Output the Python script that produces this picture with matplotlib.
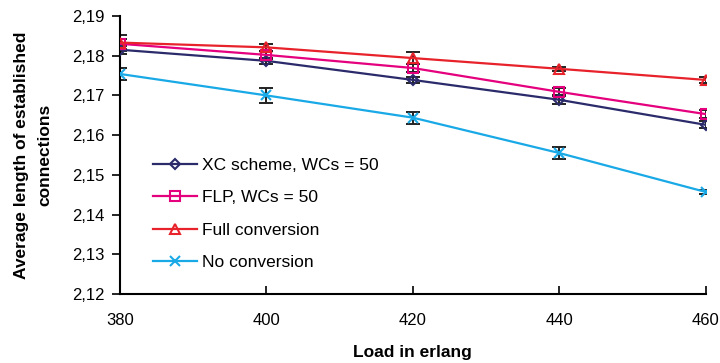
import matplotlib
matplotlib.use("Agg")
import matplotlib.pyplot as plt
from matplotlib.ticker import FuncFormatter

plt.rcParams['font.family'] = ['Liberation Sans', 'DejaVu Sans']

load = [380, 400, 420, 440, 460]

xc = [2.1815, 2.1787, 2.1739, 2.1689, 2.1626]
xc_err = [0.0010, 0.0008, 0.0008, 0.0010, 0.0009]

flp = [2.1830, 2.1802, 2.1769, 2.1709, 2.1653]
flp_err = [0.0012, 0.0010, 0.0010, 0.0009, 0.0011]

full = [2.1833, 2.1821, 2.1794, 2.1767, 2.1739]
full_err = [0.0020, 0.0008, 0.0016, 0.0005, 0.0008]

noconv = [2.1754, 2.1700, 2.1644, 2.1555, 2.1457]
noconv_err = [0.0014, 0.0019, 0.0015, 0.0015, 0.0006]

fig = plt.figure(figsize=(7.2, 3.63), dpi=100)
ax = fig.add_axes([0.1667, 0.19, 0.8133, 0.766])

series = [
    (xc, xc_err, '#2b2b6b', 'D', 5.5, 'XC scheme, WCs = 50'),
    (flp, flp_err, '#e5007d', 's', 6.5, 'FLP, WCs = 50'),
    (full, full_err, '#e8222b', '^', 7.5, 'Full conversion'),
    (noconv, noconv_err, '#19a9e6', 'x', 7.5, 'No conversion'),
]

for vals, errs, col, mk, ms, lab in series:
    ax.errorbar(load, vals, yerr=errs, fmt='none', ecolor='#222222',
                elinewidth=1.4, capsize=5, capthick=1.4, zorder=2)
    ax.plot(load, vals, color=col, marker=mk, markersize=ms,
            markerfacecolor='none' if mk != 'x' else col,
            markeredgecolor=col, markeredgewidth=1.5, linewidth=1.6,
            label=lab, zorder=3)

ax.set_xlim(380, 460)
ax.set_ylim(2.12, 2.19)
ax.set_xticks(load)
ax.set_yticks([2.12, 2.13, 2.14, 2.15, 2.16, 2.17, 2.18, 2.19])
ax.yaxis.set_major_formatter(FuncFormatter(lambda v, p: f"{v:.2f}".replace('.', ',')))

ax.spines['top'].set_visible(False)
ax.spines['right'].set_visible(False)
ax.spines['left'].set_linewidth(1.5)
ax.spines['bottom'].set_linewidth(1.5)
ax.tick_params(axis='y', direction='out', length=6, width=1.2, labelsize=12, pad=5)
ax.tick_params(axis='x', direction='in', length=6, width=1.2, labelsize=12, pad=14)

ax.set_xlabel("Load in erlang", fontsize=12.5, fontweight='bold', labelpad=12)
ax.set_ylabel("Average length of established\nconnections", fontsize=12.5,
              fontweight='bold', labelpad=14, linespacing=1.75)

ax.legend(loc='upper left', bbox_to_anchor=(0.03, 0.545), frameon=False,
          fontsize=12.5, handlelength=2.5, labelspacing=0.98, handletextpad=0.3,
          numpoints=1)

fig.savefig("out.png", dpi=100)
